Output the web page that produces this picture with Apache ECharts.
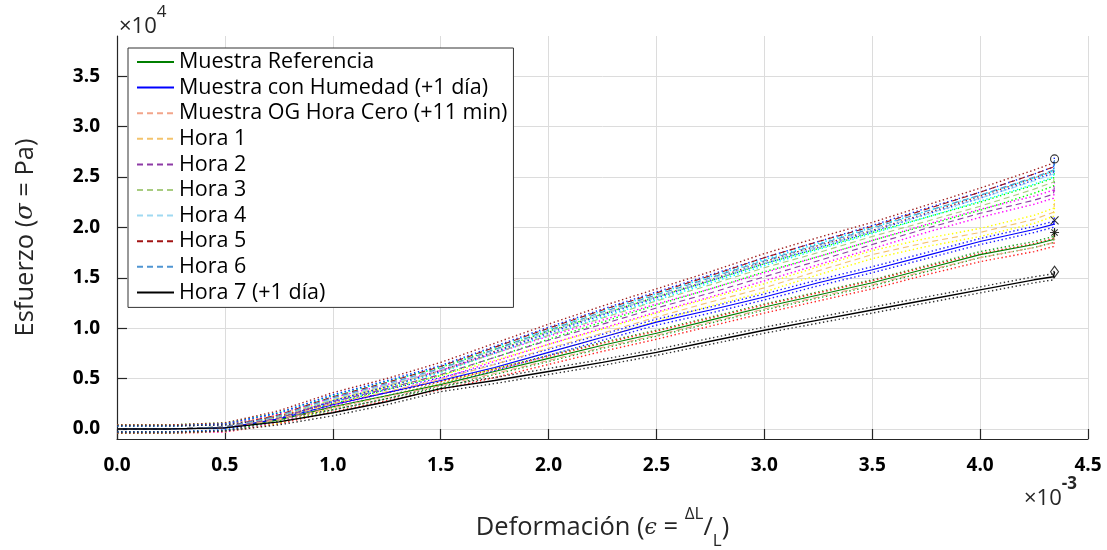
<!DOCTYPE html>
<html>
<head>
<meta charset="utf-8">
<script src="https://cdn.jsdelivr.net/npm/echarts@6/dist/echarts.min.js"></script>
<style>
  html, body { margin: 0; background: #fff; }
  #chart { width: 1107px; height: 550px; }
</style>
</head>
<body>
<div id="chart"></div>
<script>
// deformacion (x 1e-3) y esfuerzo (x 1e4 Pa)
const strain = [0, 0.25, 0.5, 0.75, 1.0, 1.25, 1.5, 1.75, 2.0, 2.25, 2.5, 2.75, 3.0, 3.25, 3.5, 3.75, 4.0, 4.25, 4.34, 4.345];

const seriesNames = ['Muestra Referencia', 'Muestra con Humedad (+1 día)', 'Muestra OG Hora Cero (+11 min)',
  'Hora 1', 'Hora 2', 'Hora 3', 'Hora 4', 'Hora 5', 'Hora 6', 'Hora 7 (+1 día)'];

const referencia = [0, 0, 0.01, 0.09, 0.22, 0.33, 0.44, 0.57, 0.70, 0.83, 0.95, 1.08, 1.21, 1.33, 1.45, 1.59, 1.73, 1.83, 1.88, 1.95];
const humedad    = [0, 0, 0.01, 0.10, 0.24, 0.36, 0.48, 0.61, 0.76, 0.91, 1.06, 1.18, 1.31, 1.45, 1.58, 1.72, 1.86, 1.98, 2.03, 2.07];
const horaCero   = [0, 0, 0.01, 0.09, 0.21, 0.32, 0.43, 0.55, 0.68, 0.81, 0.93, 1.06, 1.19, 1.31, 1.43, 1.57, 1.70, 1.80, 1.85, 1.92];
const hora1      = [0, 0, 0.01, 0.10, 0.25, 0.37, 0.49, 0.64, 0.80, 0.95, 1.11, 1.26, 1.40, 1.57, 1.73, 1.85, 1.95, 2.08, 2.15, 2.24];
const hora2      = [0, 0, 0.01, 0.11, 0.27, 0.40, 0.54, 0.71, 0.88, 1.04, 1.20, 1.35, 1.51, 1.67, 1.83, 1.99, 2.14, 2.27, 2.33, 2.42];
const hora3      = [0, 0, 0.02, 0.12, 0.29, 0.43, 0.57, 0.75, 0.93, 1.10, 1.27, 1.43, 1.60, 1.75, 1.91, 2.06, 2.21, 2.38, 2.45, 2.52];
const hora4      = [0, 0, 0.02, 0.13, 0.30, 0.44, 0.59, 0.78, 0.96, 1.14, 1.31, 1.48, 1.65, 1.81, 1.97, 2.13, 2.29, 2.46, 2.53, 2.60];
const hora5      = [0, 0, 0.02, 0.14, 0.32, 0.46, 0.62, 0.81, 1.00, 1.18, 1.35, 1.52, 1.70, 1.86, 2.01, 2.18, 2.35, 2.53, 2.60, 2.62];
const hora6      = [0, 0, 0.02, 0.13, 0.31, 0.45, 0.60, 0.79, 0.98, 1.16, 1.33, 1.50, 1.67, 1.83, 1.99, 2.16, 2.32, 2.50, 2.57, 2.68];
const hora7      = [0, 0, 0.01, 0.07, 0.16, 0.27, 0.40, 0.48, 0.57, 0.66, 0.76, 0.87, 0.98, 1.08, 1.18, 1.28, 1.38, 1.48, 1.51, 1.56];

// dispersion de las curvas punteadas (+/-)
const spread = [0.03, 0.03, 0.04, 0.04, 0.04, 0.04, 0.03, 0.04, 0.03, 0.03];

// marcadores finales
const endX = [4.345, 4.345, 4.345, 4.345];
const endY = [2.68, 2.07, 1.95, 1.56];

const yTicks = [0, 0.5, 1.0, 1.5, 2.0, 2.5, 3.0, 3.5];

const allVals = [referencia, humedad, horaCero, hora1, hora2, hora3, hora4, hora5, hora6, hora7];
const mainColors = ['#007f00', '#0000ff', '#f2a58a', '#f4c36c', '#8e3ba6', '#a8cc80', '#9fd9f2', '#a21414', '#4f95d2', '#000000'];
const boundColors = ['#20a020', '#1a1aff', '#ff2020', '#ffff00', '#ff00ff', '#00ff00', '#00ffff', '#a02020', '#1030ff', '#303030'];
const lineTypes = ['solid', 'solid', [6, 4], [6, 4], [6, 4], [6, 4], [6, 4], [6, 4], [6, 4], 'solid'];
const lineWidths = [1.1, 1.1, 1.1, 1.1, 1.1, 1.1, 1.1, 1.1, 1.1, 1.4];

const FONT = 'Open Sans';
const AX = '#262626';

const series = [];
allVals.forEach((vals, k) => {
  [-1, 1].forEach(sgn => {
    series.push({
      name: seriesNames[k] + (sgn < 0 ? ' inf' : ' sup'),
      type: 'line', symbol: 'none', silent: true,
      data: strain.map((x, i) => [x, vals[i] + sgn * spread[k]]),
      lineStyle: { color: boundColors[k], width: 1.4, type: [1.4, 2.6] }
    });
  });
});
allVals.forEach((vals, k) => {
  series.push({
    name: seriesNames[k],
    type: 'line', symbol: 'none',
    data: strain.map((x, i) => [x, vals[i]]),
    itemStyle: { color: mainColors[k] },
    lineStyle: { color: mainColors[k], width: lineWidths[k], type: lineTypes[k] }
  });
});
const star = 'path://M5,0L5,10M0,5L10,5M1.5,1.5L8.5,8.5M8.5,1.5L1.5,8.5';
const cross = 'path://M0,0L10,10M10,0L0,10';
const endSymbols = ['circle', cross, star, 'diamond'];
const endSizes = [[8, 8], [8, 8], [9, 9], [8, 11]];
series.push({
  name: 'fin', type: 'scatter', z: 5,
  data: endX.map((x, i) => ({ value: [x, endY[i]], symbol: endSymbols[i], symbolSize: endSizes[i] })),
  itemStyle: { color: 'transparent', borderColor: '#000', borderWidth: 1.1 }
});

const chart = echarts.init(document.getElementById('chart'));
chart.setOption({
  animation: false,
  backgroundColor: '#fff',
  grid: { left: 117, right: 19, top: 36, bottom: 111, outerBoundsMode: 'none', containLabel: false },
  xAxis: {
    type: 'value', min: 0, max: 4.5, interval: 0.5,
    axisLine: { onZero: false, lineStyle: { color: AX, width: 1.2 } },
    axisTick: { inside: true, length: 10, lineStyle: { color: AX, width: 1.2 } },
    axisLabel: { margin: 17, color: '#000', fontFamily: FONT, fontWeight: 'bold', fontSize: 19,
      formatter: v => v.toFixed(1) },
    splitLine: { show: true, lineStyle: { color: '#dcdcdc' } },
    name: '{a|Deformación (}{e|ϵ}{a| = }{sup|ΔL}{a|/}{sub|L}{a|)}',
    nameLocation: 'middle', nameGap: 67,
    nameTextStyle: {
      color: AX, fontFamily: FONT, fontSize: 25,
      rich: {
        a: { fontFamily: FONT, fontSize: 25.5, color: AX, lineHeight: 44 },
        e: { fontFamily: 'DejaVu Serif', fontStyle: 'italic', fontSize: 22, color: AX, lineHeight: 44 },
        sup: { fontFamily: FONT, fontSize: 17, color: AX, lineHeight: 28, verticalAlign: 'top' },
        sub: { fontFamily: FONT, fontSize: 17, color: AX, lineHeight: 12, verticalAlign: 'bottom' }
      }
    }
  },
  yAxis: {
    type: 'value', min: -0.1, max: 3.9,
    axisLine: { show: true, lineStyle: { color: AX, width: 1.2 } },
    axisTick: { show: true, inside: true, length: 10, customValues: yTicks, lineStyle: { color: AX, width: 1.2 } },
    axisLabel: { margin: 17, color: '#000', fontFamily: FONT, fontWeight: 'bold', fontSize: 19,
      customValues: yTicks, formatter: v => v.toFixed(1) },
    splitLine: { show: true, lineStyle: { color: '#dcdcdc' } },
    name: '{a|Esfuerzo (}{s|σ}{a| = Pa)}',
    nameLocation: 'middle', nameGap: 78, nameRotate: 90,
    nameTextStyle: {
      rich: {
        a: { fontFamily: FONT, fontSize: 25.5, color: AX },
        s: { fontFamily: 'DejaVu Serif', fontStyle: 'italic', fontSize: 24, color: AX }
      }
    }
  },
  legend: {
    orient: 'vertical', left: 128, top: 48,
    data: seriesNames,
    itemWidth: 37, itemHeight: 14, itemGap: 3.6,
    padding: [3, 6, 4, 8],
    itemStyle: { opacity: 0 },
    backgroundColor: '#fff', borderColor: '#333', borderWidth: 1, borderRadius: 0,
    textStyle: { fontFamily: FONT, fontSize: 21.5, color: '#000', lineHeight: 20 }
  },
  graphic: [
    {
      type: 'text', left: 119, top: 4,
      style: {
        text: '{a|×10}{b|4}',
        rich: {
          a: { fontFamily: FONT, fontSize: 22, fill: AX, lineHeight: 34, verticalAlign: 'bottom' },
          b: { fontFamily: FONT, fontSize: 17, fill: AX, lineHeight: 17, verticalAlign: 'top' }
        }
      }
    },
    {
      type: 'text', left: 1024, top: 476,
      style: {
        text: '{a|×10}{b|-3}',
        rich: {
          a: { fontFamily: FONT, fontSize: 22, fill: AX, lineHeight: 34, verticalAlign: 'bottom' },
          b: { fontFamily: FONT, fontSize: 17, fontWeight: 'bold', fill: AX, lineHeight: 17, verticalAlign: 'top' }
        }
      }
    }
  ],
  series: series
});
</script>
</body>
</html>
